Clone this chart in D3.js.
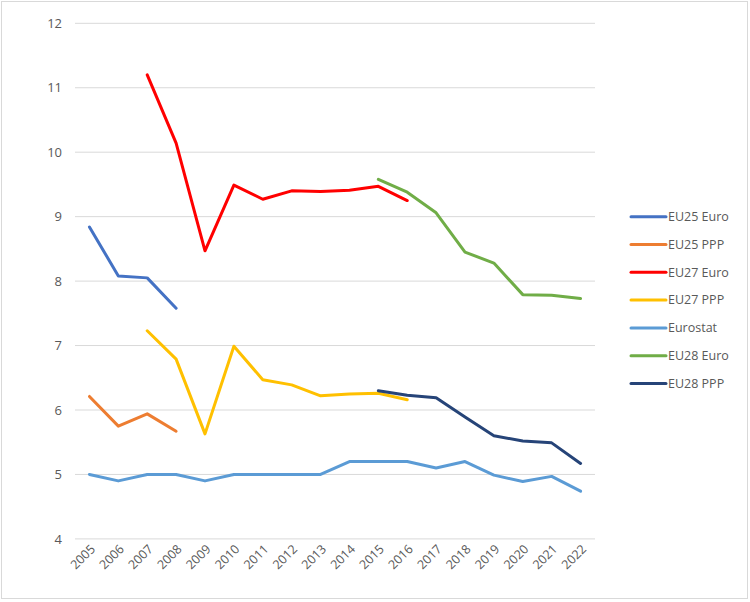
<!DOCTYPE html>
<html>
<head>
<meta charset="utf-8">
<script src="https://cdn.jsdelivr.net/npm/d3@7"></script>
<style>
  body { margin: 0; background: #fff; }
  svg { font-family: "Open Sans", "Noto Sans", sans-serif; }
</style>
</head>
<body>
<svg id="chart" width="750" height="602"></svg>
<script>
// years on the x axis
const years = [2005, 2006, 2007, 2008, 2009, 2010, 2011, 2012, 2013, 2014, 2015, 2016, 2017, 2018, 2019, 2020, 2021, 2022];
const yTicks = [4, 5, 6, 7, 8, 9, 10, 11, 12];

// series values (null = no data)
const eu25Euro = [8.84, 8.08, 8.05, 7.58, null, null, null, null, null, null, null, null, null, null, null, null, null, null];
const eu25Ppp = [6.21, 5.75, 5.94, 5.67, null, null, null, null, null, null, null, null, null, null, null, null, null, null];
const eu27Euro = [null, null, 11.2, 10.14, 8.47, 9.49, 9.27, 9.4, 9.39, 9.41, 9.47, 9.25, null, null, null, null, null, null];
const eu27Ppp = [null, null, 7.23, 6.79, 5.63, 6.99, 6.47, 6.39, 6.22, 6.25, 6.26, 6.16, null, null, null, null, null, null];
const eurostat = [5.0, 4.9, 5.0, 5.0, 4.9, 5.0, 5.0, 5.0, 5.0, 5.2, 5.2, 5.2, 5.1, 5.2, 4.99, 4.89, 4.97, 4.74];
const eu28Euro = [null, null, null, null, null, null, null, null, null, null, 9.58, 9.38, 9.06, 8.45, 8.28, 7.79, 7.78, 7.73];
const eu28Ppp = [null, null, null, null, null, null, null, null, null, null, 6.3, 6.23, 6.19, 5.89, 5.6, 5.52, 5.49, 5.17];

const seriesNames = ["EU25 Euro", "EU25 PPP", "EU27 Euro", "EU27 PPP", "Eurostat", "EU28 Euro", "EU28 PPP"];
const seriesValues = [eu25Euro, eu25Ppp, eu27Euro, eu27Ppp, eurostat, eu28Euro, eu28Ppp];
const seriesColors = ["#4472C4", "#ED7D31", "#FF0000", "#FFC000", "#5B9BD5", "#70AD47", "#264478"];

const svg = d3.select("#chart");

// outer border of the chart
svg.append("rect")
  .attr("x", 1.5).attr("y", 1.5)
  .attr("width", 746).attr("height", 597)
  .attr("fill", "#fff")
  .attr("stroke", "#d9d9d9");

const plot = { left: 75, right: 595, top: 23.3, bottom: 538.9 };

const x = d3.scalePoint()
  .domain(years)
  .range([plot.left, plot.right])
  .padding(0.5);

const y = d3.scaleLinear()
  .domain([4, 12])
  .range([plot.bottom, plot.top]);

// grid lines
svg.append("g")
  .selectAll("line")
  .data(yTicks)
  .join("line")
  .attr("x1", plot.left)
  .attr("x2", plot.right)
  .attr("y1", (d) => y(d))
  .attr("y2", (d) => y(d))
  .attr("stroke", "#d9d9d9")
  .attr("stroke-width", 1);

// y axis labels
const yAxis = svg.append("g")
  .attr("transform", `translate(${plot.left - 13},0)`)
  .call(d3.axisLeft(y).tickValues(yTicks).tickSize(0).tickPadding(0));
yAxis.select(".domain").remove();
yAxis.selectAll("text")
  .attr("fill", "#595959")
  .attr("font-size", 13)
  .attr("font-family", "'Open Sans', 'Noto Sans', sans-serif");

// x axis labels, rotated
const xAxis = svg.append("g")
  .attr("transform", `translate(0,${plot.bottom})`)
  .call(d3.axisBottom(x).tickSize(0).tickPadding(0));
xAxis.select(".domain").remove();
xAxis.selectAll("text")
  .attr("fill", "#595959")
  .attr("font-size", 12.5)
  .attr("font-family", "'Open Sans', 'Noto Sans', sans-serif")
  .attr("text-anchor", "end")
  .attr("dy", null)
  .attr("transform", "translate(6,11) rotate(-45)");

// lines
const line = d3.line()
  .defined((d) => d.v != null)
  .x((d) => x(d.year))
  .y((d) => y(d.v));

svg.append("g")
  .selectAll("path")
  .data(seriesValues)
  .join("path")
  .attr("d", (vals) => line(vals.map((v, i) => ({ year: years[i], v }))))
  .attr("fill", "none")
  .attr("stroke", (d, i) => seriesColors[i])
  .attr("stroke-width", 3)
  .attr("stroke-linejoin", "round")
  .attr("stroke-linecap", "round");

// legend
const legend = svg.append("g")
  .selectAll("g")
  .data(seriesNames)
  .join("g")
  .attr("transform", (d, i) => `translate(631,${216.7 + i * 27.8})`);

legend.append("line")
  .attr("x1", 0).attr("x2", 35)
  .attr("stroke", (d, i) => seriesColors[i])
  .attr("stroke-width", 3)
  .attr("stroke-linecap", "round");

legend.append("text")
  .attr("x", 37)
  .attr("dy", "0.35em")
  .attr("fill", "#595959")
  .attr("font-size", 12.5)
  .text((d) => d);
</script>
</body>
</html>
